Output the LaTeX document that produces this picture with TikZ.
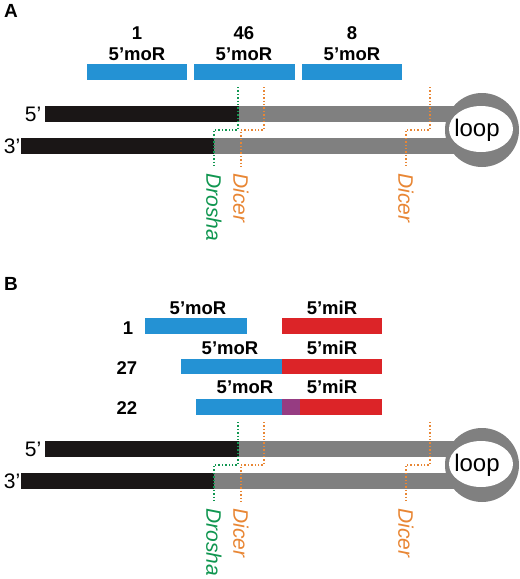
\documentclass[tikz,border=0pt]{standalone}
\usepackage{fontspec}
\setmainfont{Liberation Sans}
\definecolor{barblue}{RGB}{36,146,212}
\definecolor{barred}{RGB}{220,36,40}
\definecolor{barpurple}{RGB}{150,60,130}
\definecolor{strandgrey}{RGB}{128,128,128}
\definecolor{strandblack}{RGB}{26,22,22}
\definecolor{droshagreen}{RGB}{16,150,80}
\definecolor{dicerorange}{RGB}{232,134,52}
\begin{document}
\begin{tikzpicture}[x=1pt,y=-1pt,
  panellbl/.style={inner sep=0pt,font=\fontsize{19}{22}\selectfont\bfseries},
  barlbl/.style={inner sep=0pt,font=\fontsize{18.5}{21}\selectfont\bfseries},
  endlbl/.style={inner sep=0pt,font=\fontsize{21}{24}\selectfont},
  looplbl/.style={inner sep=0pt,font=\fontsize{24}{28}\selectfont},
  enzlbl/.style={inner sep=0pt,rotate=-90,anchor=west,font=\fontsize{21}{24}\selectfont\itshape},
  cutline/.style={dotted,line width=1.4pt},
]
\useasboundingbox (0,0) rectangle (520,579);

% ---------- Panel A ----------
\node[panellbl] (lblA) at (11,11) {A};
\node[barlbl] (nA1) at (137,33) {1};
\node[barlbl] (mA1) at (137,54) {5’moR};
\node[barlbl] (nA2) at (244,33) {46};
\node[barlbl] (mA2) at (244,54) {5’moR};
\node[barlbl] (nA3) at (352,33) {8};
\node[barlbl] (mA3) at (352,54) {5’moR};
\fill[barblue] (87,64) rectangle (187,80);
\fill[barblue] (194,64) rectangle (295,80);
\fill[barblue] (302,64) rectangle (402,80);

% ---------- hairpin (both panels) ----------
\foreach \dy/\p in {0/A,335/B}{
\begin{scope}[shift={(0,\dy)}]
  \fill[strandgrey] (239,106) rectangle (470,122);
  \fill[strandgrey] (214,138) rectangle (470,154);
  \fill[strandgrey] (482,130) circle[radius=37];
  \fill[white] (481,129) ellipse[x radius=32,y radius=23];
  \fill[strandblack] (45,106) rectangle (239,122);
  \fill[strandblack] (21,138) rectangle (214,154);
  \node[endlbl] (five\p) at (33,114) {5’};
  \node[endlbl] (three\p) at (12,146) {3’};
  \node[looplbl] (loop\p) at (477,130) {loop};
  % cut sites
  \coordinate (dt\p) at (238,87);
  \coordinate (dm1\p) at (238,130);
  \coordinate (dm2\p) at (214,130);
  \coordinate (db\p) at (214,168);
  \coordinate (at\p) at (264,87);
  \coordinate (am1\p) at (264,130);
  \coordinate (am2\p) at (241,130);
  \coordinate (ab\p) at (241,168);
  \coordinate (bt\p) at (430,87);
  \coordinate (bm1\p) at (430,130);
  \coordinate (bm2\p) at (406,130);
  \coordinate (bb\p) at (406,168);
  \draw[cutline,droshagreen] (dt\p) -- (dm1\p) -- (dm2\p) -- (db\p);
  \draw[cutline,dicerorange] (at\p) -- (am1\p) -- (am2\p) -- (ab\p);
  \draw[cutline,dicerorange] (bt\p) -- (bm1\p) -- (bm2\p) -- (bb\p);
  \node[enzlbl,text=droshagreen] (drosha\p) at (214,173) {Drosha};
  \node[enzlbl,text=dicerorange] (dicerL\p) at (241,173) {Dicer};
  \node[enzlbl,text=dicerorange] (dicerR\p) at (406,173) {Dicer};
\end{scope}}

% ---------- Panel B ----------
\node[panellbl] (lblB) at (11,284) {B};
% row 1
\node[barlbl] (nB1) at (128,328) {1};
\node[barlbl] (moB1) at (198,308) {5’moR};
\node[barlbl] (miB1) at (332,308) {5’miR};
\fill[barblue] (145,318) rectangle (247,334);
\fill[barred] (282,318) rectangle (382,334);
% row 2
\node[barlbl] (nB2) at (127,368) {27};
\node[barlbl] (moB2) at (230,348) {5’moR};
\node[barlbl] (miB2) at (332,348) {5’miR};
\fill[barblue] (181,359) rectangle (282,374);
\fill[barred] (282,359) rectangle (382,374);
% row 3
\node[barlbl] (nB3) at (127,408) {22};
\node[barlbl] (moB3) at (245,387) {5’moR};
\node[barlbl] (miB3) at (332,387) {5’miR};
\fill[barblue] (196,399) rectangle (282,415);
\fill[barpurple] (282,399) rectangle (300,415);
\fill[barred] (300,399) rectangle (382,415);
\end{tikzpicture}
\end{document}
